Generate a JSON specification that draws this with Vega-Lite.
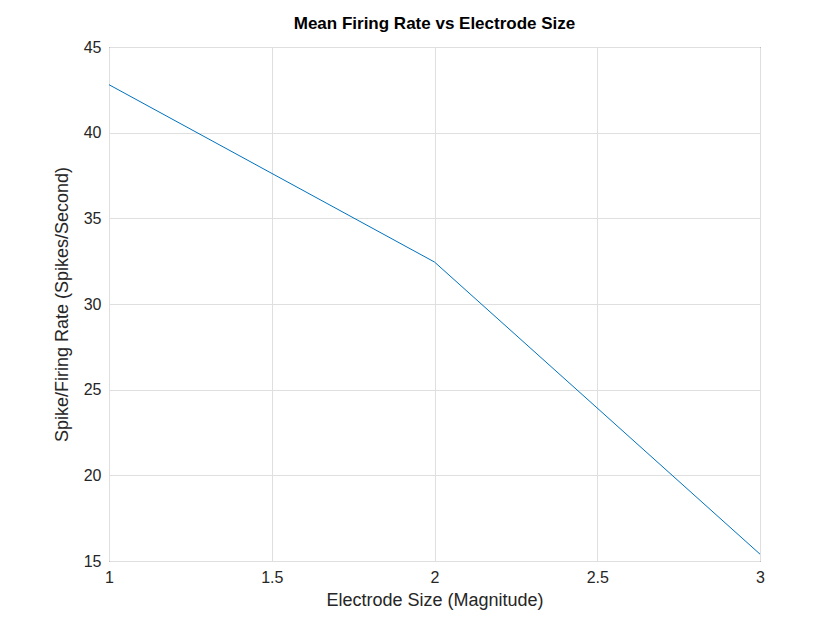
{
  "$schema": "https://vega.github.io/schema/vega-lite/v6.json",
  "autosize": {"type": "none"},
  "padding": {"left": 109, "top": 47, "right": 80, "bottom": 69},
  "width": 651,
  "height": 514,
  "background": "white",
  "title": {
    "text": "Mean Firing Rate vs Electrode Size",
    "font": "Liberation Sans",
    "fontSize": 17,
    "fontWeight": "bold",
    "color": "#000000",
    "offset": 6
  },
  "data": {
    "values": [
      {"size": 1, "rate": 42.8},
      {"size": 2, "rate": 32.45},
      {"size": 3, "rate": 15.4}
    ]
  },
  "mark": {"type": "line", "color": "#0072BD", "strokeWidth": 1},
  "encoding": {
    "x": {
      "field": "size", "type": "quantitative", "title": "Electrode Size (Magnitude)",
      "scale": {"domain": [1, 3], "nice": false, "zero": false},
      "axis": {"values": [1, 1.5, 2, 2.5, 3], "format": "~g", "labelFlush": false}
    },
    "y": {
      "field": "rate", "type": "quantitative", "title": "Spike/Firing Rate (Spikes/Second)",
      "scale": {"domain": [15, 45], "nice": false, "zero": false},
      "axis": {"values": [15, 20, 25, 30, 35, 40, 45], "format": "~g", "labelFlush": false}
    }
  },
  "config": {
    "view": {"stroke": "#262626", "strokeWidth": 1},
    "axis": {
      "grid": true,
      "gridColor": "#DFDFDF",
      "domain": false,
      "ticks": false,
      "labelFont": "Liberation Sans",
      "labelFontSize": 16,
      "labelColor": "#262626",
      "labelPadding": 8,
      "titleFont": "Liberation Sans",
      "titleFontSize": 18,
      "titleFontWeight": "normal",
      "titleColor": "#262626"
    },
    "axisX": {"titlePadding": 6},
    "axisY": {"titlePadding": 12}
  }
}
